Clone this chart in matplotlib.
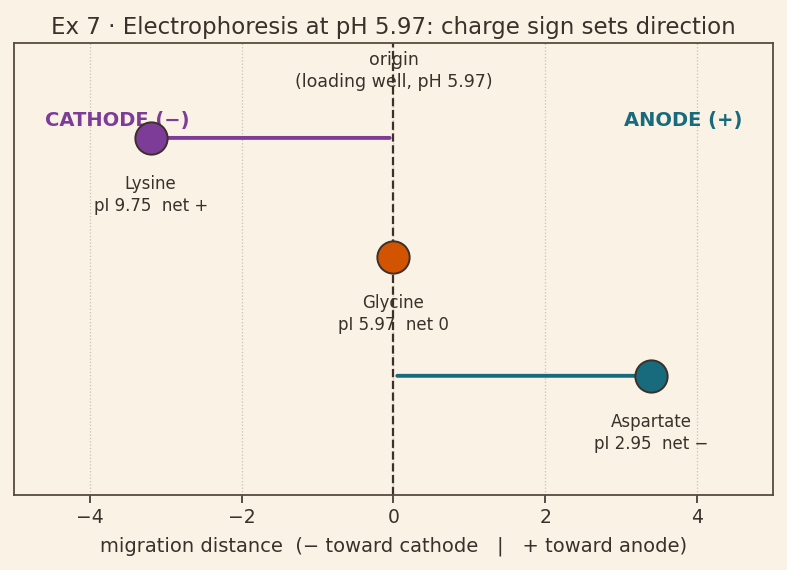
import matplotlib.pyplot as plt

plt.rcParams["font.family"] = ["DejaVu Sans"]

# amino acids, migration distance, labels
names = ["Lysine", "Glycine", "Aspartate"]
pI = ["9.75", "5.97", "2.95"]
net = ["+", "0", "\u2212"]
distance = [-3.2, 0.0, 3.4]
ypos = [2, 1, 0]
colors = ["#7d3c98", "#d35400", "#176b7d"]

bg = "#faf2e4"
ink = "#3b302a"

fig, ax = plt.subplots(figsize=(7.87, 5.7), dpi=100)
fig.patch.set_facecolor(bg)
ax.set_facecolor(bg)

ax.axvline(0, color=ink, ls="--", lw=1.6, zorder=2)

for name, p, n, d, y, c in zip(names, pI, net, distance, ypos, colors):
    if d != 0:
        start = -0.05 if d < 0 else 0.05
        ax.annotate("", xy=(d, y), xytext=(start, y),
                    arrowprops=dict(arrowstyle="-|>", color=c, lw=2.8,
                                    shrinkA=0, shrinkB=0, mutation_scale=14),
                    zorder=3)
    ax.scatter([d], [y], s=540, color=c, edgecolor=ink, linewidth=1.4, zorder=4)
    ax.text(d, y - 0.48, f"{name}\npI {p}  net {n}", ha="center", va="center",
            fontsize=12, color=ink, linespacing=1.3)

ax.text(0, 2.56, "origin\n(loading well, pH 5.97)", ha="center", va="center",
        fontsize=12.5, color=ink, linespacing=1.3)
ax.text(-4.6, 2.15, "CATHODE (\u2212)", ha="left", va="center", fontsize=14,
        fontweight="bold", color=colors[0])
ax.text(4.6, 2.15, "ANODE (+)", ha="right", va="center", fontsize=14,
        fontweight="bold", color=colors[2])

ax.set_xlim(-5, 5)
ax.set_ylim(-1, 2.8)
ax.set_yticks([])
ax.set_xticks([-4, -2, 0, 2, 4])
ax.grid(axis="x", color="#c9c2b5", ls=":", lw=0.9, zorder=0)
ax.set_axisbelow(True)
ax.tick_params(axis="x", colors=ink, labelsize=13.5, length=6, width=1.2)
for s in ax.spines.values():
    s.set_color("#5a4b3c")
    s.set_linewidth(1.3)

ax.set_xlabel("migration distance  (\u2212 toward cathode   |   + toward anode)",
              fontsize=14, color=ink, labelpad=7)
ax.set_title("Ex 7 \u00b7 Electrophoresis at pH 5.97: charge sign sets direction",
             fontsize=16.5, color=ink)

fig.subplots_adjust(left=0.018, right=0.982, top=0.925, bottom=0.132)
fig.savefig("out.png", dpi=100, facecolor=bg)
